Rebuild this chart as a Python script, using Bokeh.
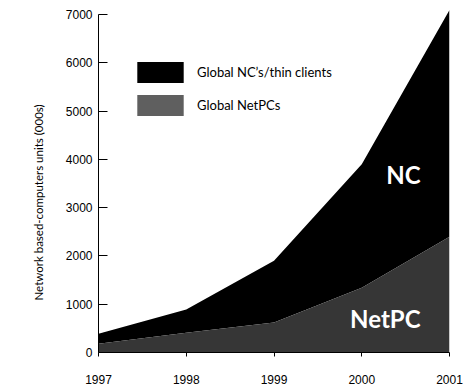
from bokeh.plotting import figure
from bokeh.models import ColumnDataSource, Legend, LegendItem, Range1d, FixedTicker, Title
from bokeh.core.properties import value
from bokeh.embed import file_html
from bokeh.resources import INLINE

years = [1997, 1998, 1999, 2000, 2001]
nc_total = [390, 890, 1900, 3900, 7100]
netpc = [180, 410, 620, 1340, 2400]
y_ticks = [0, 1000, 2000, 3000, 4000, 5000, 6000, 7000]
series_names = ["Global NC\u2019s/thin clients", "Global NetPCs"]
area_labels = ["NC", "NetPC"]
y_title = "Network based-computers units (000s)"
label_x = [2000.67, 2000.67]
label_y = [3680, 700]

COND = "Lato"

src = ColumnDataSource(dict(x=years, nc=nc_total, netpc=netpc, zero=[0] * len(years)))

p = figure(width=463, height=387, output_backend="svg", toolbar_location=None,
           x_range=Range1d(1997, 2001), y_range=Range1d(0, 7150),
           min_border_left=98, min_border_right=14, min_border_top=7, min_border_bottom=35)
p.outline_line_color = None
p.xgrid.visible = False
p.ygrid.visible = False

nc_r = p.varea(x="x", y1="netpc", y2="nc", source=src, fill_color="#000000")
np_r = p.varea(x="x", y1="zero", y2="netpc", source=src, fill_color="#363636")

# legend-only swatch renderers (NaN geometry, never drawn in the plot)
nan = float("nan")
dummy = ColumnDataSource(dict(left=[nan], right=[nan], top=[nan], bottom=[nan]))
leg_nc = p.quad(left="left", right="right", top="top", bottom="bottom", source=dummy,
                fill_color="#000000", line_color=None)
leg_np = p.quad(left="left", right="right", top="top", bottom="bottom", source=dummy,
                fill_color="#5f5f5f", line_color=None)

legend = Legend(items=[LegendItem(label=series_names[0], renderers=[leg_nc]),
                       LegendItem(label=series_names[1], renderers=[leg_np])],
                location=(33, 234), orientation="vertical",
                glyph_width=58, glyph_height=26, spacing=7, label_standoff=8,
                padding=0, margin=0, border_line_color=None, background_fill_alpha=0,
                label_text_font=COND, label_text_font_size="13px",
                label_text_color="#000000")
p.add_layout(legend, "center")

lsrc = ColumnDataSource(dict(x=label_x, y=label_y, t=area_labels))
p.text(x="x", y="y", text="t", source=lsrc, text_color="#ffffff",
       text_font=value(COND), text_font_style="bold", text_font_size="24px",
       text_align="right", text_baseline="middle")

p.xaxis.ticker = FixedTicker(ticks=years)
p.xaxis.major_label_overrides = {y: str(y) for y in years}
p.xaxis.minor_tick_line_color = None
p.xaxis.major_tick_in = 0
p.xaxis.major_tick_out = 4
p.xaxis.major_label_standoff = 18
p.xaxis.axis_line_color = "#000000"
p.xaxis.major_label_text_font = "Liberation Sans"
p.xaxis.major_label_text_font_size = "12px"
p.xaxis.major_label_text_color = "#000000"

p.yaxis.ticker = FixedTicker(ticks=y_ticks)
p.yaxis.bounds = (0, 7000)
p.yaxis.minor_tick_line_color = None
p.yaxis.major_tick_in = 9
p.yaxis.major_tick_out = 0
p.yaxis.major_label_standoff = 6
p.yaxis.axis_line_color = "#000000"
p.yaxis.major_label_text_font = "Liberation Sans"
p.yaxis.major_label_text_font_size = "12px"
p.yaxis.major_label_text_color = "#000000"

ytitle = Title(text=y_title, align="left", offset=52, standoff=35,
               text_font=COND, text_font_style="normal", text_font_size="11.5px",
               text_color="#000000")
p.add_layout(ytitle, "left")

open("out.html", "w").write(file_html(p, INLINE))
